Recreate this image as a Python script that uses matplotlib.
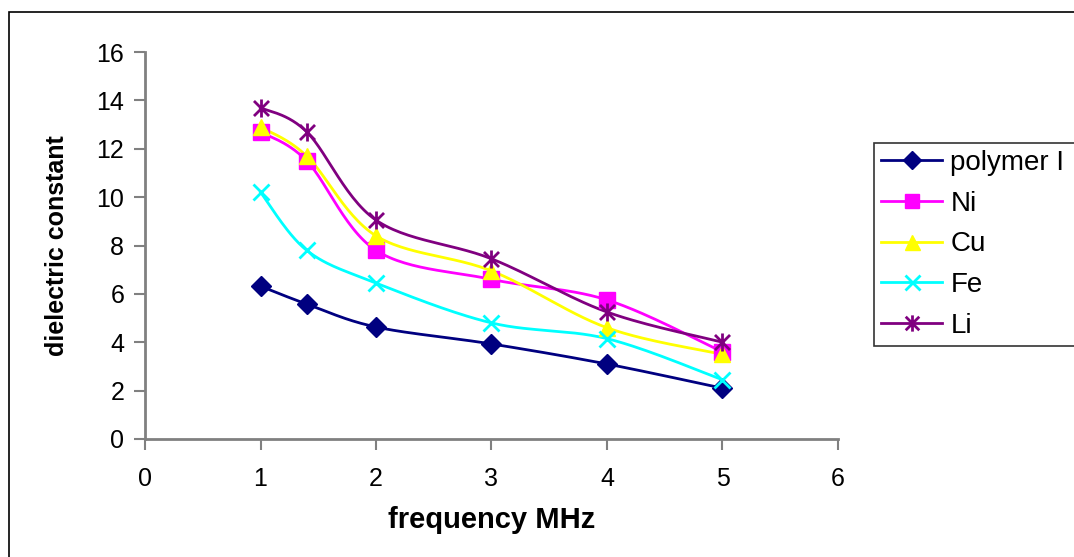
import numpy as np
import matplotlib
matplotlib.use("Agg")
import matplotlib.pyplot as plt
from matplotlib.patches import Rectangle
from matplotlib.path import Path

# Frequency (MHz) and dielectric constant for each sample
freq = [1, 1.4, 2, 3, 4, 5]
polymer = [6.32, 5.58, 4.63, 3.93, 3.10, 2.10]
ni = [12.7, 11.5, 7.8, 6.6, 5.75, 3.6]
cu = [12.9, 11.7, 8.4, 6.95, 4.6, 3.5]
fe = [10.2, 7.8, 6.45, 4.8, 4.15, 2.45]
li = [13.7, 12.7, 9.05, 7.45, 5.25, 4.0]

series_names = ["polymer I", "Ni", "Cu", "Fe", "Li"]
x_ticks = [0, 1, 2, 3, 4, 5, 6]
y_ticks = [0, 2, 4, 6, 8, 10, 12, 14, 16]

plt.rcParams["font.family"] = ["Liberation Sans", "DejaVu Sans"]


def smooth(xs, ys, n=30):
    """Smoothed path through the points (cubic Bezier with Catmull-Rom tangents)."""
    p = np.column_stack([xs, ys]).astype(float)
    out = [p[0]]
    m = len(p)
    for i in range(m - 1):
        p0 = p[i - 1] if i > 0 else p[i]
        p1, p2 = p[i], p[i + 1]
        p3 = p[i + 2] if i + 2 < m else p[i + 1]
        c1 = p1 + (p2 - p0) / 6.0
        c2 = p2 - (p3 - p1) / 6.0
        t = np.linspace(0, 1, n)[1:, None]
        seg = ((1 - t) ** 3) * p1 + 3 * ((1 - t) ** 2) * t * c1 + 3 * (1 - t) * t ** 2 * c2 + t ** 3 * p2
        out.extend(seg)
    out = np.array(out)
    return out[:, 0], out[:, 1]


# star marker: an X crossed by a vertical stroke
star = Path([(-1, -1), (1, 1), (-1, 1), (1, -1), (0, -1.2), (0, 1.2)],
            [Path.MOVETO, Path.LINETO, Path.MOVETO, Path.LINETO, Path.MOVETO, Path.LINETO])

fig = plt.figure(figsize=(10.74, 5.57), dpi=100)
W, H = 1074, 557
ax = fig.add_axes([145 / W, 1 - 439 / H, (838 - 145) / W, (439 - 52) / H])

styles = [
    (polymer, "#000080", "D", 10, 1),
    (ni, "#FF00FF", "s", 11, 1),
    (cu, "#FFFF00", "^", 12, 1),
    (fe, "#00FFFF", "x", 12, 2),
    (li, "#800080", star, 13, 2),
]

handles = []
for (vals, color, marker, ms, mew), name in zip(styles, series_names):
    sx, sy = smooth(freq, vals)
    ax.plot(sx, sy, color=color, lw=2, zorder=2)
    ax.plot(freq, vals, linestyle="none", marker=marker, markersize=ms,
            color=color, markeredgecolor=color, markeredgewidth=mew, zorder=3)
    h, = ax.plot([], [], color=color, lw=2, marker=marker, markersize=ms * 0.9,
                 markeredgecolor=color, markeredgewidth=mew)
    handles.append(h)

ax.set_xlim(0, 6)
ax.set_ylim(0, 16)
ax.set_xticks(x_ticks)
ax.set_yticks(y_ticks)
ax.tick_params(axis="both", direction="out", length=8, width=1.5, color="#808080",
               labelsize=18)
ax.tick_params(axis="y", pad=7)
ax.tick_params(axis="x", pad=12)
for side in ("top", "right"):
    ax.spines[side].set_visible(False)
for side in ("left", "bottom"):
    ax.spines[side].set_color("#808080")
    ax.spines[side].set_linewidth(2)

ax.set_xlabel("frequency MHz", fontsize=21, fontweight="bold", labelpad=11)
ax.set_ylabel("dielectric constant", fontsize=18, fontweight="bold", labelpad=20)

# legend box runs past the right edge of the figure
leg = fig.legend(handles, series_names, loc="upper left",
                 bbox_to_anchor=(874 / W, 1 - 143 / H, 240 / W, 0), mode="expand",
                 fontsize=20, frameon=True, fancybox=False, edgecolor="black",
                 handlelength=2.2, handletextpad=0.3, labelspacing=0.53,
                 borderpad=0.25, borderaxespad=0)
leg.get_frame().set_linewidth(1.2)

# outer chart border
fig.patches.append(Rectangle((9 / W, -0.05), 1.2, 1 - 12 / H + 0.05,
                             transform=fig.transFigure, fill=False,
                             edgecolor="black", linewidth=1.2))

fig.savefig("out.png", dpi=100)
